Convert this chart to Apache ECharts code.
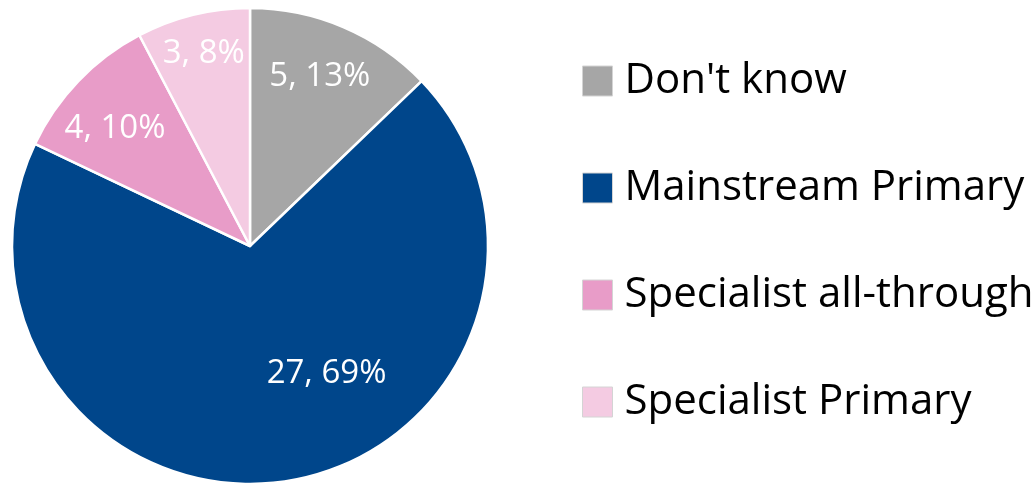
<!DOCTYPE html>
<html>
<head>
<meta charset="utf-8">
<script src="https://cdn.jsdelivr.net/npm/echarts@6/dist/echarts.min.js"></script>
<style>
  html, body { margin: 0; padding: 0; background: #ffffff; }
  #chart { width: 1035px; height: 487px; }
</style>
</head>
<body>
<div id="chart"></div>
<script>
// School phase categories and counts
const categories = ['Don\'t know', 'Mainstream Primary', 'Specialist all-through', 'Specialist Primary'];
const counts = [5, 27, 4, 3];
const colors = ['#a6a6a6', '#00468b', '#e89cc8', '#f4cbe2'];
// nudges for each slice label, away from the slice mid-radius
const labelOffsets = [[22, -57], [57, 7], [-47, -33], [-17, -74]];

const FONT = '"Open Sans", "Noto Sans", sans-serif';

const chart = echarts.init(document.getElementById('chart'), null, { renderer: 'canvas' });

chart.setOption({
  animation: false,
  backgroundColor: '#ffffff',
  legend: {
    orient: 'vertical',
    left: 582,
    top: 60,
    padding: 0,
    itemWidth: 30,
    itemHeight: 30,
    itemGap: 65,
    icon: 'rect',
    itemStyle: { borderColor: '#d4d4d4', borderWidth: 1 },
    textStyle: {
      fontFamily: FONT,
      fontSize: 42,
      lineHeight: 42,
      color: '#000000',
      padding: [0, 0, 0, 7]
    },
    data: categories
  },
  series: [{
    type: 'pie',
    center: [250, 246],
    radius: [0, 238],
    startAngle: 90,
    clockwise: true,
    percentPrecision: 0,
    avoidLabelOverlap: false,
    itemStyle: { borderColor: '#ffffff', borderWidth: 2.5 },
    emphasis: { disabled: true },
    labelLine: { show: false },
    label: {
      show: true,
      position: 'inside',
      formatter: '{c}, {d}%',
      color: '#ffffff',
      fontFamily: FONT,
      fontSize: 33
    },
    data: categories.map((name, i) => ({
      name: name,
      value: counts[i],
      itemStyle: { color: colors[i] },
      label: { offset: labelOffsets[i] }
    }))
  }]
});
</script>
</body>
</html>
